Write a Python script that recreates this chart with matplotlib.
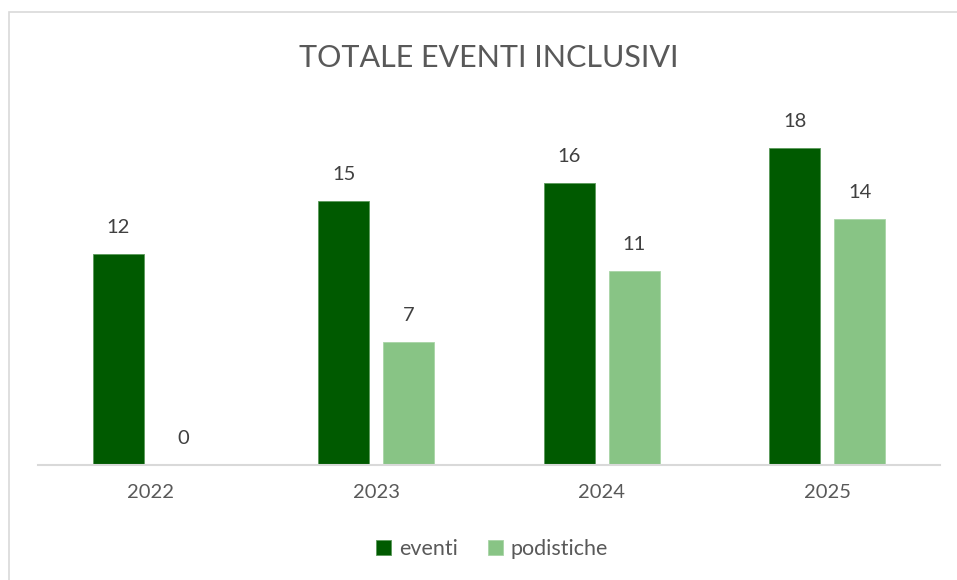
import matplotlib
matplotlib.use("Agg")
import matplotlib.pyplot as plt
import numpy as np
from matplotlib.patches import Rectangle

years = ["2022", "2023", "2024", "2025"]
eventi = [12, 15, 16, 18]
podistiche = [0, 7, 11, 14]

c_dark = "#005A00"
c_light = "#88C485"
txt = "#595959"
FONT = ["Lato", "DejaVu Sans"]
plt.rcParams["font.family"] = FONT

fig = plt.figure(figsize=(9.57, 5.80), dpi=100)
fig.add_artist(Rectangle((8.5 / 957, -0.1), 1.2, (580 - 12) / 580 + 0.1,
                         transform=fig.transFigure, fill=False,
                         edgecolor="#D9D9D9", linewidth=1.2))

ax = fig.add_axes([38 / 957, (580 - 465) / 580, (940 - 38) / 957, (465 - 113) / 580])
x = np.arange(len(years))
w = 0.226
gap = 0.062
off = (w + gap) / 2
b1 = ax.bar(x - off, eventi, w, color=c_dark, edgecolor="#5a9a5a", linewidth=0.6, label="eventi")
b2 = ax.bar(x + off, podistiche, w, color=c_light, edgecolor="#a8d4a6", linewidth=0.6, label="podistiche")

for bars, vals in ((b1, eventi), (b2, podistiche)):
    for r, v in zip(bars, vals):
        ax.annotate(str(v), (r.get_x() + r.get_width() / 2, v), xytext=(0, 13),
                    textcoords="offset points", ha="center", va="bottom",
                    fontsize=14.5, color="#404040")

ax.set_xlim(-0.5, 3.5)
ax.set_ylim(0, 20)
ax.set_yticks([])
ax.set_xticks(x)
ax.set_xticklabels(years, fontsize=14.5, color=txt)
ax.tick_params(axis="x", length=0, pad=14)
for s in ("top", "right", "left"):
    ax.spines[s].set_visible(False)
ax.spines["bottom"].set_color("#D9D9D9")
ax.spines["bottom"].set_linewidth(1.5)

fig.text(489 / 957, 1 - 58 / 580, "TOTALE EVENTI INCLUSIVI", ha="center", va="center",
         fontsize=22, color=txt, fontweight="normal")

fig.legend(handles=[b1, b2], labels=["eventi", "podistiche"], loc="center",
           bbox_to_anchor=(492 / 957, 1 - 549 / 580), ncol=2, frameon=False,
           fontsize=15.5, labelcolor=txt, handlelength=0.7, handleheight=0.7,
           handletextpad=0.35, columnspacing=1.4)

fig.savefig("out.png", dpi=100)
